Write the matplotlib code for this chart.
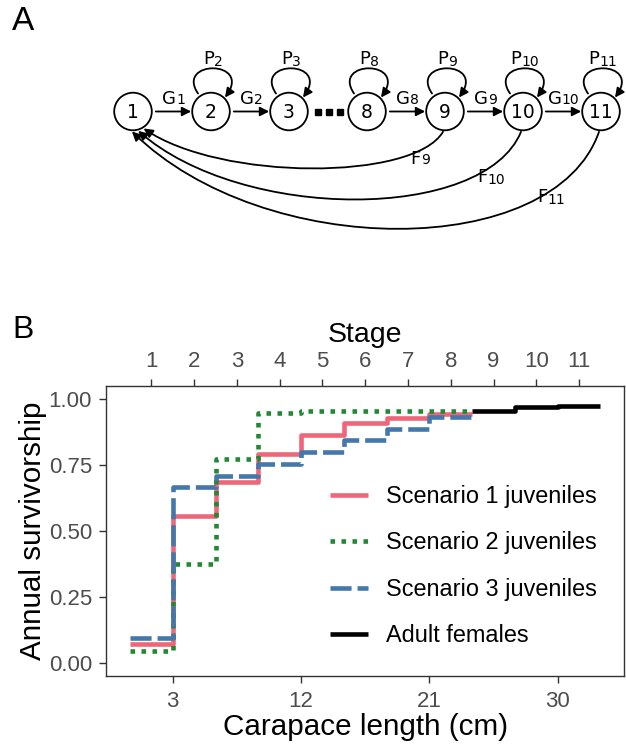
import math
import matplotlib.pyplot as plt
from matplotlib.patches import Circle, FancyArrowPatch
from matplotlib.path import Path

plt.rcParams['font.family'] = 'Liberation Sans'

# survivorship per stage; stages are 3 cm carapace length bins
length_edges = [0, 3, 6, 9, 12, 15, 18, 21, 24, 27, 30, 33]
stages = [1, 2, 3, 4, 5, 6, 7, 8, 9, 10, 11]
n_juv = 8
scenario1 = [0.071, 0.557, 0.686, 0.791, 0.865, 0.909, 0.930, 0.943]
scenario2 = [0.044, 0.375, 0.772, 0.947, 0.957, 0.957, 0.957, 0.957]
scenario3 = [0.093, 0.666, 0.709, 0.755, 0.801, 0.846, 0.889, 0.934]
adult = [0.957, 0.970, 0.976]
length_ticks = [3, 12, 21, 30]
surv_ticks = [0, 0.25, 0.5, 0.75, 1.0]

# life cycle graph
nodes = [1, 2, 3, 8, 9, 10, 11]
growth = [1, 2, 8, 9, 10]        # G_i : stage i -> i+1
stasis = [2, 3, 8, 9, 10, 11]    # P_i : stay in stage i
fecund = [9, 10, 11]             # F_i : stage i -> stage 1

fig = plt.figure(figsize=(6.26, 7.48), dpi=100)

# ---- panel A, drawn in pixel units ----
axa = fig.add_axes([0, 1 - 250 / 748, 1, 250 / 748])
axa.set_xlim(0, 626)
axa.set_ylim(250, 0)
axa.axis('off')

FAM = 'DejaVu Sans'
LET_SIZE = 13
SUB_SIZE = 10


def rate_label(x, y, letter, num):
    # letter with a subscript stage number, centred on (x, y)
    sub = str(num)
    sub_w = len(sub) * 0.636 * SUB_SIZE * 100 / 72
    t = axa.text(x - sub_w / 2, y, letter, ha='center', va='center',
                 fontsize=LET_SIZE, family=FAM)
    axa.annotate(sub, xy=(1.0, 0.0), xycoords=t, ha='left', va='bottom',
                 fontsize=SUB_SIZE, family=FAM)


r = 18.8
y0 = 111.5
nx = {s: 133 + 78 * i for i, s in enumerate(nodes)}
arrow_kw = dict(arrowstyle='-|>,head_length=0.6,head_width=0.3',
                mutation_scale=9, color='black', lw=1.3,
                shrinkA=0, shrinkB=0)

for s in nodes:
    axa.add_patch(Circle((nx[s], y0), r, fill=False, lw=1.3, ec='black'))
    axa.text(nx[s], y0 + 1, str(s), ha='center', va='center', fontsize=13.5, family=FAM)

for s in growth:
    xa = nx[s] + r + 4
    xb = nx[s + 1] - r - 1
    axa.add_patch(FancyArrowPatch((xa, y0), (xb, y0), **arrow_kw))
    rate_label((xa + xb) / 2, y0 - 13, 'G', s)

# dots for the skipped stages 4-7
axa.plot([nx[3] + 29, nx[3] + 40, nx[3] + 51], [y0, y0, y0], 's', color='black', ms=3.8)

for s in stasis:
    x = nx[s]
    verts = [(x - 13, y0 - 18), (x - 36, y0 - 52), (x + 42, y0 - 52), (x + 14, y0 - 14)]
    p = Path(verts, [Path.MOVETO, Path.CURVE4, Path.CURVE4, Path.CURVE4])
    axa.add_patch(FancyArrowPatch(path=p, **arrow_kw))
    rate_label(x + 2, y0 - 52, 'P', s)

# fecundity arcs back to stage 1
tip_angle = {9: 58, 10: 75, 11: 93}
depth = {9: 50, 10: 91, 11: 130}
lab_off = {9: (-25, 47), 10: (-32, 66), 11: (-50, 86)}
for s in fecund:
    span = nx[s] - nx[1]
    a = math.radians(tip_angle[s])
    end = (nx[1] + 20 * math.cos(a), y0 + 20 * math.sin(a))
    start = (nx[s] - 2, y0 + r + 1.5)
    yc = 131 + depth[s]
    verts = [start, (nx[s] - 0.1 * span, yc), (nx[1] + 0.28 * span, yc), end]
    p = Path(verts, [Path.MOVETO, Path.CURVE4, Path.CURVE4, Path.CURVE4])
    axa.add_patch(FancyArrowPatch(path=p, **arrow_kw))
    dx, dy = lab_off[s]
    rate_label(nx[s] + dx, y0 + dy, 'F', s)

fig.text(12 / 626, 1 - 22 / 748, 'A', fontsize=24, ha='left', va='center')
fig.text(12 / 626, 1 - 330 / 748, 'B', fontsize=23, ha='left', va='center')

# ---- panel B ----
ax = fig.add_axes([0.1701, 0.0963, 0.8267, 0.3873])
lw = 3.3
x_juv = length_edges[:n_juv + 1]
x_ad = length_edges[n_juv:]
ax.step(x_juv, scenario1 + scenario1[-1:], where='post', color='#EE6677', lw=lw,
        solid_capstyle='butt', label='Scenario 1 juveniles')
ax.step(x_juv, scenario2 + scenario2[-1:], where='post', color='#228833', lw=lw,
        dashes=(1.0, 1.4), dash_capstyle='butt', label='Scenario 2 juveniles')
ax.step(x_juv, scenario3 + scenario3[-1:], where='post', color='#4477AA', lw=lw,
        dashes=(4.6, 1.3), dash_capstyle='butt', label='Scenario 3 juveniles')
ax.step(x_ad, adult + adult[-1:], where='post', color='black', lw=lw,
        solid_capstyle='butt', label='Adult females')

ax.set_xlim(-1.65, 34.65)
ax.set_ylim(-0.05, 1.05)
ax.set_xticks(length_ticks)
ax.set_yticks(surv_ticks)
ax.set_yticklabels(['%.2f' % v for v in surv_ticks])
ax.set_xlabel('Carapace length (cm)', fontsize=21.3, labelpad=1)
ax.set_ylabel('Annual survivorship', fontsize=21.3, labelpad=1)
for sp in ax.spines.values():
    sp.set_color('#333333')
    sp.set_linewidth(1.0)
ax.tick_params(length=5, width=1.0, color='#333333', labelcolor='#4D4D4D',
               labelsize=16, pad=5.5)

top = ax.secondary_xaxis('top')
top.set_xticks([e + 1.5 for e in length_edges[:-1]], labels=[str(s) for s in stages])
top.tick_params(length=5, width=1.0, color='#333333', labelcolor='#4D4D4D',
                labelsize=16, pad=5)
top.spines['top'].set_visible(False)
top.set_xlabel('Stage', fontsize=20.5, labelpad=7)

ax.legend(loc='upper left', bbox_to_anchor=(330 / 626, 1 - 485 / 748),
          bbox_transform=fig.transFigure, frameon=False, fontsize=16.9,
          handlelength=1.6, handletextpad=0.8, labelspacing=1.0,
          borderpad=0, borderaxespad=0)

fig.savefig('out.png', dpi=100)
